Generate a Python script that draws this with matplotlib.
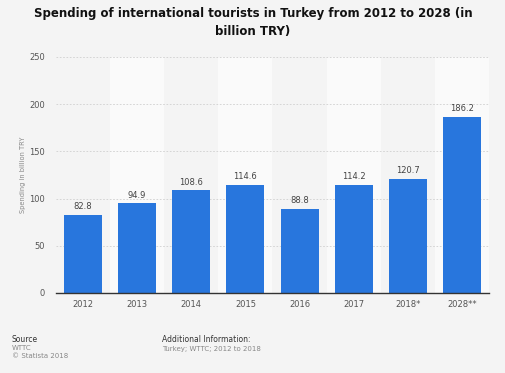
import matplotlib.pyplot as plt
from matplotlib.patches import Rectangle

years = ["2012", "2013", "2014", "2015", "2016", "2017", "2018*", "2028**"]
spending = [82.8, 94.9, 108.6, 114.6, 88.8, 114.2, 120.7, 186.2]
y_ticks = [0, 50, 100, 150, 200, 250]

bg = "#f4f4f4"
bar_color = "#2876dd"

fig = plt.figure(figsize=(5.06, 3.73), dpi=100, facecolor=bg)
ax = fig.add_axes([56 / 506, 1 - 293 / 373, 433 / 506, 236 / 373])
ax.set_facecolor(bg)

# alternating column bands
for i in range(len(years)):
    if i % 2 == 1:
        ax.add_patch(Rectangle((i - 0.5, 0), 1, 250, color="#fafafa", zorder=0, linewidth=0))

ax.set_axisbelow(True)
ax.yaxis.grid(True, linestyle=(0, (2, 2)), color="#cfcfcf", linewidth=0.6)

x = range(len(years))
bars = ax.bar(x, spending, width=0.7, color=bar_color, zorder=2)
for xi, v in zip(x, spending):
    ax.text(xi, v + 4, f"{v:.1f}", ha="center", va="bottom", fontsize=6, color="#444444")

ax.set_xlim(-0.5, len(years) - 0.5)
ax.set_ylim(0, 250)
ax.set_yticks(y_ticks)
ax.set_xticks(list(x))
ax.set_xticklabels(years)
ax.tick_params(axis="both", length=0, labelsize=6, labelcolor="#555555")
ax.tick_params(axis="y", pad=8)
ax.tick_params(axis="x", pad=5)
for s in ["top", "right", "left"]:
    ax.spines[s].set_visible(False)
ax.spines["bottom"].set_color("#333333")
ax.spines["bottom"].set_linewidth(1)

ax.set_ylabel("Spending in billion TRY", fontsize=4.8, color="#888888", labelpad=2)

fig.text(0.5, 1 - 14 / 373, "Spending of international tourists in Turkey from 2012 to 2028 (in",
         ha="center", va="center", fontsize=8.5, fontweight="bold", color="#111111")
fig.text(0.5, 1 - 31 / 373, "billion TRY)",
         ha="center", va="center", fontsize=8.5, fontweight="bold", color="#111111")

fig.text(12 / 506, 1 - 340 / 373, "Source", fontsize=5.5, color="#333333", va="center")
fig.text(12 / 506, 1 - 348.5 / 373, "WTTC", fontsize=5, color="#888888", va="center")
fig.text(12 / 506, 1 - 356 / 373, "© Statista 2018", fontsize=5, color="#888888", va="center")
fig.text(162 / 506, 1 - 340 / 373, "Additional Information:", fontsize=5.5, color="#333333", va="center")
fig.text(162 / 506, 1 - 348.5 / 373, "Turkey; WTTC; 2012 to 2018", fontsize=5, color="#888888", va="center")

fig.savefig("out.png", dpi=100, facecolor=bg)
